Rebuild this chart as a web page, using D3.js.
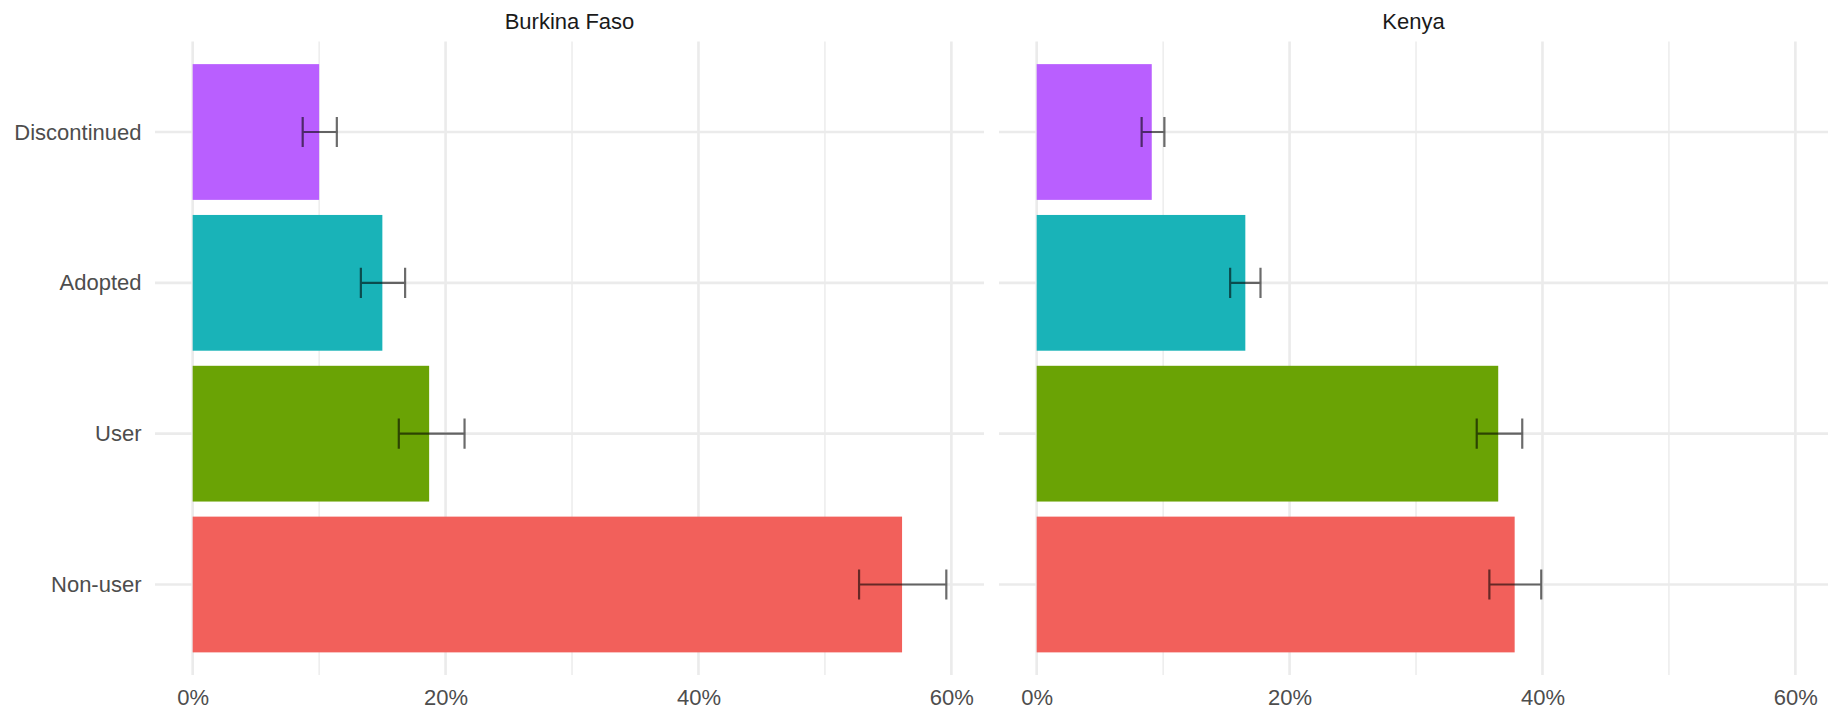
<!DOCTYPE html>
<html>
<head>
<meta charset="utf-8">
<script src="https://cdn.jsdelivr.net/npm/d3@7"></script>
<style>
  body { margin: 0; background: #fff; }
  text { font-family: "Liberation Sans", Arial, Helvetica, sans-serif; }
</style>
</head>
<body>
<div id="chart"></div>
<script>
/* DATA */
const countries = ["Burkina Faso", "Kenya"];
const statuses = ["Discontinued", "Adopted", "User", "Non-user"];

// share of respondents (%), with lower / upper error bounds
const burkinaShare = [10.0, 15.0, 18.7, 56.1];
const burkinaLow   = [8.7, 13.3, 16.3, 52.7];
const burkinaHigh  = [11.4, 16.8, 21.5, 59.6];

const kenyaShare = [9.1, 16.5, 36.5, 37.8];
const kenyaLow   = [8.3, 15.3, 34.8, 35.8];
const kenyaHigh  = [10.1, 17.7, 38.4, 39.9];

const xTicks = [0, 20, 40, 60];
const xMinorTicks = [10, 30, 50];

/* CONSTANTS */
const width = 1831,
  height = 712,
  panelTop = 41.5,
  panelBottom = 675,
  panelLefts = [155, 999],
  panelWidth = 829;

const colour = d3.scaleOrdinal()
  .domain(statuses)
  .range(["#B95FFF", "#19B3B8", "#6AA305", "#F2605B"]);

const series = [
  { country: countries[0], share: burkinaShare, low: burkinaLow, high: burkinaHigh },
  { country: countries[1], share: kenyaShare, low: kenyaLow, high: kenyaHigh }
];

// shared x domain with ggplot-like 5% expansion
const xMax = d3.max(series, s => d3.max(s.high));
const pad = xMax * 0.05;

const yScale = d3.scalePoint()
  .domain(statuses)
  .range([panelTop, panelBottom])
  .padding(0.6);
const barH = yScale.step() * 0.9;
const capH = yScale.step() * 0.1;

const svg = d3.select("#chart")
  .append("svg")
  .attr("width", width)
  .attr("height", height);

series.forEach((s, i) => {
  const x0 = panelLefts[i];
  const xScale = d3.scaleLinear()
    .domain([-pad, xMax + pad])
    .range([x0, x0 + panelWidth]);

  const g = svg.append("g");

  // minor grid
  g.selectAll(".minor")
    .data(xMinorTicks)
    .join("line")
    .attr("x1", d => xScale(d)).attr("x2", d => xScale(d))
    .attr("y1", panelTop).attr("y2", panelBottom)
    .attr("stroke", "#EBEBEB").attr("stroke-width", 1.4);

  // major grid
  g.selectAll(".major")
    .data(xTicks)
    .join("line")
    .attr("x1", d => xScale(d)).attr("x2", d => xScale(d))
    .attr("y1", panelTop).attr("y2", panelBottom)
    .attr("stroke", "#EBEBEB").attr("stroke-width", 2.6);

  g.selectAll(".hgrid")
    .data(statuses)
    .join("line")
    .attr("x1", x0).attr("x2", x0 + panelWidth)
    .attr("y1", d => yScale(d)).attr("y2", d => yScale(d))
    .attr("stroke", "#EBEBEB").attr("stroke-width", 2.6);

  const rows = statuses.map((st, j) => ({
    status: st, value: s.share[j], low: s.low[j], high: s.high[j]
  }));

  // bars
  g.selectAll(".bar")
    .data(rows)
    .join("rect")
    .attr("x", xScale(0))
    .attr("y", d => yScale(d.status) - barH / 2)
    .attr("width", d => xScale(d.value) - xScale(0))
    .attr("height", barH)
    .attr("fill", d => colour(d.status));

  // error bars
  g.selectAll(".err")
    .data(rows)
    .join("path")
    .attr("d", d => {
      const y = yScale(d.status), a = xScale(d.low), b = xScale(d.high);
      return `M${a},${y - capH}L${a},${y + capH}M${a},${y}L${b},${y}M${b},${y - capH}L${b},${y + capH}`;
    })
    .attr("fill", "none")
    .attr("stroke", "#000")
    .attr("stroke-opacity", 0.58)
    .attr("stroke-width", 2.2);

  // x axis
  const xAxis = d3.axisBottom(xScale)
    .tickValues(xTicks)
    .tickSize(0)
    .tickPadding(14)
    .tickFormat(d => d + "%");

  g.append("g")
    .attr("transform", `translate(0,${panelBottom})`)
    .call(xAxis)
    .call(a => a.select(".domain").remove())
    .selectAll("text")
    .attr("font-size", 22)
    .attr("fill", "#4D4D4D");

  // strip title
  g.append("text")
    .attr("x", x0 + panelWidth / 2)
    .attr("y", 29)
    .attr("text-anchor", "middle")
    .attr("font-size", 22)
    .attr("fill", "#1A1A1A")
    .text(s.country);

  // y axis only on first panel
  if (i === 0) {
    g.append("g")
      .attr("transform", `translate(${x0},0)`)
      .call(d3.axisLeft(yScale).tickSize(0).tickPadding(13.5))
      .call(a => a.select(".domain").remove())
      .selectAll("text")
      .attr("font-size", 22)
      .attr("fill", "#4D4D4D");
  }
});
</script>
</body>
</html>
